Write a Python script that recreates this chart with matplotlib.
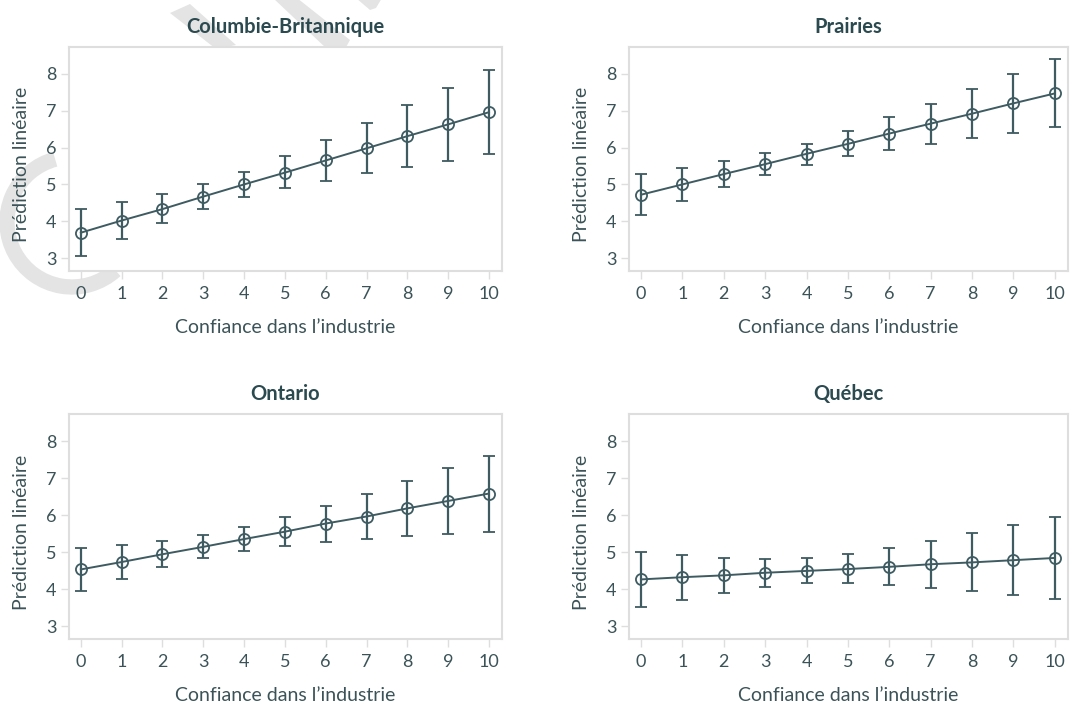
import matplotlib
matplotlib.use("Agg")
import matplotlib.pyplot as plt
from matplotlib.patches import Arc, Polygon
from matplotlib.transforms import IdentityTransform
import numpy as np

plt.rcParams['font.family'] = ['Lato', 'DejaVu Sans']

# ---------------- data ----------------
confiance = [0, 1, 2, 3, 4, 5, 6, 7, 8, 9, 10]
x_ticks = [0, 1, 2, 3, 4, 5, 6, 7, 8, 9, 10]
y_ticks = [3, 4, 5, 6, 7, 8]

regions = ["Columbie-Britannique", "Prairies", "Ontario", "Québec"]

cb_pred = [3.69, 4.02, 4.33, 4.67, 5.00, 5.32, 5.65, 5.98, 6.31, 6.63, 6.96]
cb_low = [3.05, 3.52, 3.95, 4.33, 4.66, 4.90, 5.10, 5.30, 5.47, 5.64, 5.82]
cb_high = [4.33, 4.52, 4.74, 5.01, 5.35, 5.77, 6.21, 6.67, 7.15, 7.63, 8.10]

pr_pred = [4.72, 5.00, 5.28, 5.55, 5.83, 6.10, 6.38, 6.65, 6.92, 7.20, 7.47]
pr_low = [4.17, 4.56, 4.92, 5.26, 5.54, 5.76, 5.94, 6.09, 6.26, 6.40, 6.56]
pr_high = [5.29, 5.45, 5.63, 5.84, 6.11, 6.44, 6.82, 7.19, 7.59, 8.00, 8.40]

on_pred = [4.53, 4.73, 4.94, 5.14, 5.35, 5.55, 5.77, 5.96, 6.18, 6.38, 6.58]
on_low = [3.96, 4.28, 4.59, 4.84, 5.03, 5.17, 5.27, 5.35, 5.42, 5.49, 5.55]
on_high = [5.10, 5.18, 5.29, 5.45, 5.68, 5.95, 6.25, 6.58, 6.92, 7.26, 7.60]

qc_pred = [4.26, 4.32, 4.37, 4.44, 4.49, 4.54, 4.60, 4.67, 4.72, 4.78, 4.84]
qc_low = [3.51, 3.71, 3.90, 4.06, 4.15, 4.15, 4.10, 4.02, 3.94, 3.84, 3.73]
qc_high = [5.01, 4.92, 4.85, 4.81, 4.84, 4.96, 5.12, 5.31, 5.52, 5.73, 5.96]

series = [
    (cb_pred, cb_low, cb_high),
    (pr_pred, pr_low, pr_high),
    (on_pred, on_low, on_high),
    (qc_pred, qc_low, qc_high),
]

xlabel = "Confiance dans l\u2019industrie"
ylabel = "Prédiction linéaire"

# ---------------- layout ----------------
W, H = 1073, 705
fig = plt.figure(figsize=(W / 100, H / 100), dpi=100)
fig.patch.set_facecolor("white")


def px_rect(left, top, right, bottom):
    return [left / W, 1 - bottom / H, (right - left) / W, (bottom - top) / H]


boxes = [
    px_rect(69, 47, 502, 271),
    px_rect(629, 47, 1068, 271),
    px_rect(69, 414, 502, 639),
    px_rect(629, 414, 1068, 639),
]

# faint watermark behind the plots (pixel coordinates, y measured from top)
wm_col = "#e4e4e4"
arc = Arc((72, H - 222), 130, 130, theta1=105, theta2=312,
          color=wm_col, lw=11, zorder=0)
arc.set_transform(IdentityTransform())
fig.add_artist(arc)
wm_shapes = [
    [(170, 13), (190, 4), (236, 45), (216, 49)],
    [(273, -2), (297, -2), (350, 40), (345, 49), (327, 49)],
    [(356, -2), (382, -2), (376, 8), (370, 10)],
]
for shp in wm_shapes:
    poly = Polygon([(x, H - y) for x, y in shp], closed=True,
                   facecolor=wm_col, edgecolor="none", zorder=0)
    poly.set_transform(IdentityTransform())
    fig.add_artist(poly)

line_col = "#3e5b61"
text_col = "#3b5358"
title_col = "#2b4a50"
frame_col = "#dedede"

for i, box in enumerate(boxes):
    ax = fig.add_axes(box, zorder=2)
    ax.set_facecolor("white")
    pred, low, high = series[i]
    pred = np.array(pred)
    yerr = [pred - np.array(low), np.array(high) - pred]
    ax.errorbar(confiance, pred, yerr=yerr, color=line_col, lw=1.4,
                elinewidth=1.6, capsize=4.6, capthick=1.6,
                marker="o", markersize=8, markerfacecolor="none",
                markeredgecolor=line_col, markeredgewidth=1.3)
    ax.set_xlim(-0.29, 10.32)
    ax.set_ylim(2.65, 8.73)
    ax.set_xticks(x_ticks)
    ax.set_yticks(y_ticks)
    ax.set_xticklabels([str(t) for t in x_ticks])
    ax.set_yticklabels([str(t) for t in y_ticks])
    for sp in ax.spines.values():
        sp.set_color(frame_col)
        sp.set_linewidth(1.5)
    ax.tick_params(axis="both", length=6, width=1.0, color=frame_col,
                   labelcolor=text_col, labelsize=13)
    ax.tick_params(axis="y", pad=3)
    ax.tick_params(axis="x", pad=5)
    ax.set_xlabel(xlabel, color=text_col, fontsize=14, labelpad=12)
    ax.set_ylabel(ylabel, color=text_col, fontsize=14, labelpad=11.5)
    ax.yaxis.label.set_y(0.474)
    ax.set_title(regions[i], color=title_col, fontsize=14.5,
                 fontweight="bold", pad=10)

fig.savefig("out.png", dpi=100, facecolor="white")
